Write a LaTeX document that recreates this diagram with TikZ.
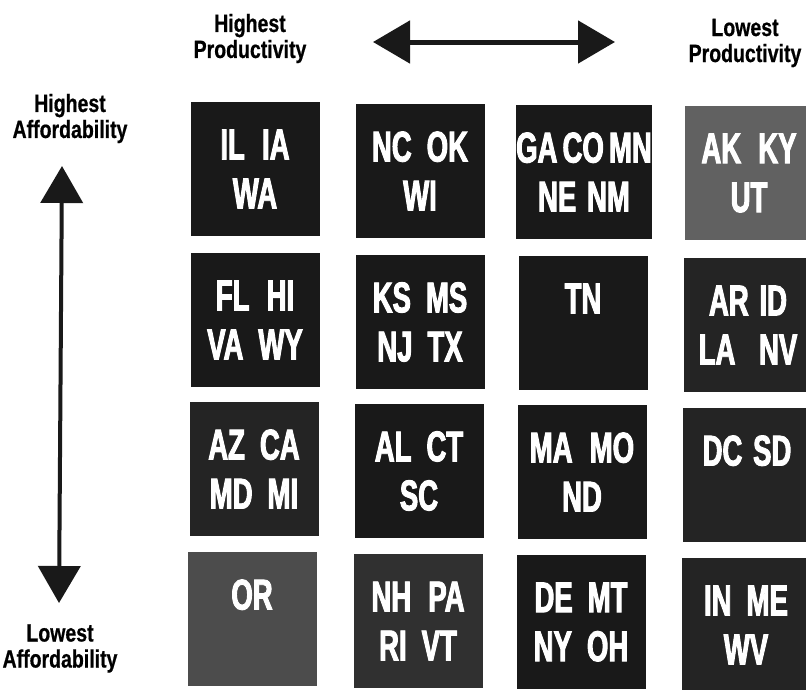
\documentclass[tikz,border=0pt]{standalone}
\usepackage{fontspec}
\setmainfont{Liberation Sans}
\newfontfamily\boxfont[FakeStretch=0.64,FakeBold=2.2]{Liberation Sans}
\newfontfamily\labfont[FakeStretch=0.78,FakeBold=0.6]{Liberation Sans}
\usetikzlibrary{arrows.meta}
\definecolor{bxblack}{gray}{0.10}
\definecolor{bxdark}{gray}{0.14}
\definecolor{bxmid}{gray}{0.19}
\definecolor{bxor}{gray}{0.30}
\definecolor{bxak}{gray}{0.38}
\tikzset{
  statebox/.style={fill=#1, draw=none, inner sep=0pt, minimum width=129pt,
    minimum height=134pt, text=white, align=center,
    font=\boxfont\bfseries\fontsize{43}{49}\selectfont},
  axislabel/.style={align=center, text=black, inner sep=0pt,
    font=\labfont\bfseries\fontsize{25}{26}\selectfont},
  axisarrow/.style={draw=black!90, line width=#1,
    {Triangle[width=42pt,length=37pt]}-{Triangle[width=42pt,length=37pt]}}
}
\begin{document}
\begin{tikzpicture}[x=1pt,y=-1pt]
\useasboundingbox (0,0) rectangle (806,689);
\fill[white] (0,0) rectangle (806,689);
\clip (0,0) rectangle (806,689);

% axis labels
\node[axislabel] (hp) at (250,38.5) {Highest\\Productivity};
\node[axislabel] (lp) at (745,43) {Lowest\\Productivity};
\node[axislabel] (ha) at (70,118.5) {Highest\\Affordability};
\node[axislabel] (la) at (60,648.5) {Lowest\\Affordability};

% arrows
\coordinate (pl) at (373,42);
\coordinate (pr) at (615,42);
\draw[axisarrow=5pt] (pl) -- (pr);
\coordinate (at) at (62,166);
\coordinate (ab) at (59,603);
\draw[axisarrow=4pt] (at) -- (ab);

% row 1
\node[statebox=bxblack] (b11) at (255,169) {IL\hspace{0.4em}IA\\WA};
\node[statebox=bxblack] (b12) at (420,171) {NC\hspace{0.35em}OK\\WI};
\node[statebox=bxblack] (b13) at (584,172) {GA\hspace{0.12em}CO\hspace{0.12em}MN\\NE\hspace{0.25em}NM};
\node[statebox=bxak]    (b14) at (749,173) {AK\hspace{0.4em}KY\\UT};
% row 2
\node[statebox=bxblack] (b21) at (255,320) {FL\hspace{0.4em}HI\\VA\hspace{0.35em}WY};
\node[statebox=bxblack] (b22) at (420,322) {KS\hspace{0.35em}MS\\NJ\hspace{0.35em}TX};
\node[statebox=bxblack] (b23) at (583,323) {TN\\\mbox{}};
\node[statebox=bxdark]  (b24) at (748,325) {AR\hspace{0.25em}ID\\LA\hspace{0.55em}NV};
% row 3
\node[statebox=bxdark]  (b31) at (254,469) {AZ\hspace{0.35em}CA\\MD\hspace{0.35em}MI};
\node[statebox=bxblack] (b32) at (419,471) {AL\hspace{0.35em}CT\\SC};
\node[statebox=bxblack] (b33) at (582,472) {MA\hspace{0.4em}MO\\ND};
\node[statebox=bxdark]  (b34) at (747,475) {DC\hspace{0.25em}SD\\\mbox{}};
% row 4
\node[statebox=bxor]    (b41) at (252,619) {OR\\\mbox{}};
\node[statebox=bxmid]   (b42) at (418,621) {NH\hspace{0.4em}PA\\RI\hspace{0.35em}VT};
\node[statebox=bxblack] (b43) at (581,622) {DE\hspace{0.35em}MT\\NY\hspace{0.35em}OH};
\node[statebox=bxdark]  (b44) at (746,625) {IN\hspace{0.35em}ME\\WV};
\end{tikzpicture}
\end{document}
